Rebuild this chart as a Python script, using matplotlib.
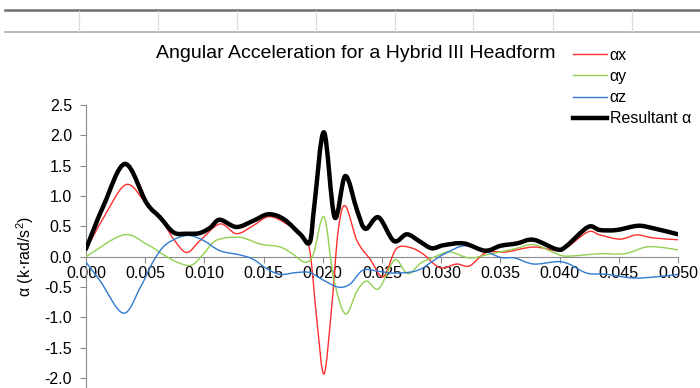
import matplotlib
matplotlib.use('Agg')
import matplotlib.pyplot as plt
from matplotlib.path import Path
from matplotlib.patches import PathPatch
from matplotlib.lines import Line2D
import numpy as np

plt.rcParams['font.family'] = ['Liberation Sans', 'DejaVu Sans']
plt.rcParams['mathtext.fontset'] = 'custom'
plt.rcParams['mathtext.rm'] = 'Liberation Sans'
plt.rcParams['mathtext.it'] = 'Liberation Sans'
plt.rcParams['axes.unicode_minus'] = False

# Werte (Zeit in ms, Winkelbeschleunigung in k·rad/s²)
t_res = [0.0, 1.5, 3.3, 5.1, 6.25, 7.4, 8.5, 9.6, 10.5, 11.3, 12.7, 14.1, 15.4, 16.7,
         18.1, 18.9, 19.3, 20.1, 21.0, 21.9, 22.9, 23.6, 24.7, 26.0, 27.1, 28.2, 29.2,
         30.2, 31.9, 33.7, 35.0, 36.4, 37.8, 39.8, 40.6, 42.4, 43.4, 44.8, 46.6, 47.9, 50.0]
a_res = [0.13, 0.85, 1.53, 0.89, 0.65, 0.40, 0.38, 0.39, 0.48, 0.61, 0.49, 0.59, 0.70, 0.62,
         0.37, 0.24, 0.87, 2.05, 0.65, 1.33, 0.76, 0.46, 0.65, 0.26, 0.37, 0.25, 0.14,
         0.19, 0.22, 0.10, 0.18, 0.22, 0.28, 0.12, 0.18, 0.49, 0.44, 0.44, 0.51, 0.47, 0.37]

t_x = [0.0, 1.5, 3.4, 5.1, 6.25, 7.4, 8.5, 9.6, 11.3, 12.7, 14.1, 15.4, 16.7, 18.2, 18.9,
       19.5, 20.1, 20.75, 21.3, 21.9, 22.9, 24.0, 25.1, 26.2, 27.4, 28.5, 29.9, 31.3,
       32.4, 33.8, 35.5, 37.8, 39.8, 40.6, 42.4, 43.4, 45.1, 46.5, 47.9, 50.0]
a_x = [0.11, 0.65, 1.19, 0.87, 0.65, 0.29, 0.07, 0.26, 0.54, 0.38, 0.51, 0.66, 0.57, 0.35, 0.10,
       -1.05, -1.93, -0.83, 0.43, 0.84, 0.26, -0.04, -0.33, 0.13, 0.15, 0.04, -0.18, -0.12,
       -0.15, 0.07, 0.08, 0.16, 0.10, 0.15, 0.41, 0.36, 0.29, 0.36, 0.31, 0.28]

t_y = [0.0, 3.15, 5.1, 6.5, 7.7, 8.9, 9.9, 11.0, 13.0, 14.7, 16.4, 17.5, 18.5, 19.2, 20.1,
       20.9, 21.9, 22.9, 23.7, 24.7, 25.8, 26.3, 27.2, 28.3, 29.5, 30.7, 32.4, 34.0, 36.2,
       37.8, 39.5, 40.6, 43.4, 45.5, 47.3, 48.8, 50.0]
a_y = [0.00, 0.36, 0.21, 0.04, -0.09, -0.14, 0.04, 0.27, 0.32, 0.21, 0.16, 0.04, -0.09, 0.04, 0.66,
       -0.34, -0.94, -0.56, -0.40, -0.53, -0.12, -0.06, -0.28, -0.10, 0.00, 0.08, -0.02, 0.04, 0.13,
       0.20, 0.07, 0.01, 0.05, 0.05, 0.16, 0.15, 0.11]

t_z = [0.0, 1.2, 3.15, 4.6, 5.7, 6.8, 8.5, 9.9, 11.3, 13.0, 14.1, 15.3, 16.4, 17.8, 18.9,
       20.0, 21.3, 22.3, 23.4, 24.7, 26.0, 27.5, 28.4, 29.3, 30.4, 31.9, 33.4, 35.0, 36.2,
       37.8, 39.8, 40.8, 42.3, 44.0, 46.2, 48.2, 50.0]
a_z = [-0.09, -0.40, -0.93, -0.50, -0.07, 0.21, 0.35, 0.27, 0.10, 0.03, -0.04, -0.20, -0.29, -0.26, -0.26,
       -0.38, -0.50, -0.45, -0.22, -0.24, -0.27, -0.25, -0.19, -0.07, 0.06, 0.18, 0.12, -0.01, -0.02,
       -0.12, -0.08, -0.12, -0.27, -0.29, -0.35, -0.33, -0.29]

x_ticks = [0.000, 0.005, 0.010, 0.015, 0.020, 0.025, 0.030, 0.035, 0.040, 0.045, 0.050]
y_ticks = [-2.0, -1.5, -1.0, -0.5, 0.0, 0.5, 1.0, 1.5, 2.0, 2.5]


def smooth_path(xs, ys):
    # geglaettete Linie wie in Excel (Catmull-Rom als Bezier)
    p = np.column_stack([np.asarray(xs) / 1000.0, ys])
    verts = [p[0]]
    codes = [Path.MOVETO]
    n = len(p)
    for i in range(n - 1):
        p0 = p[i - 1] if i > 0 else p[i]
        p1 = p[i]
        p2 = p[i + 1]
        p3 = p[i + 2] if i + 2 < n else p[i + 1]
        c1 = p1 + (p2 - p0) / 6.0
        c2 = p2 - (p3 - p1) / 6.0
        verts += [c1, c2, p2]
        codes += [Path.CURVE4] * 3
    return Path(verts, codes)


fig = plt.figure(figsize=(7, 3.88), dpi=100)
ax = fig.add_axes([86 / 700, 1 - 408.5 / 388, 592 / 700, 303.5 / 388])

series = [
    (t_x, a_x, '#FF2E2E', 1.0, 'αx'),
    (t_y, a_y, '#92D050', 1.0, 'αy'),
    (t_z, a_z, '#2E7BD0', 1.0, 'αz'),
    (t_res, a_res, 'black', 3.2, 'Resultant α'),
]
handles = []
for ts, vals, col, lw, lab in series:
    ax.add_patch(PathPatch(smooth_path(ts, vals), facecolor='none', edgecolor=col,
                           lw=lw, capstyle='round', joinstyle='round', zorder=3))
    handles.append(Line2D([], [], color=col, lw=lw, label=lab))

ax.set_xlim(0, 0.05)
ax.set_ylim(-2.5, 2.5)

for s in ['top', 'right']:
    ax.spines[s].set_visible(False)
ax.spines['bottom'].set_position(('data', 0))
ax.spines['bottom'].set_color('#8c8c8c')
ax.spines['left'].set_color('#8c8c8c')
ax.spines['bottom'].set_zorder(1)

ax.set_xticks(x_ticks)
ax.set_xticklabels(['%.3f' % v for v in x_ticks])
ax.set_yticks(y_ticks)
ax.set_yticklabels(['%.1f' % v for v in y_ticks])
ax.tick_params(axis='both', colors='#8c8c8c', labelcolor='black', labelsize=11.5,
               direction='out', length=4)
ax.tick_params(axis='x', pad=3)
ax.tick_params(axis='y', pad=6)

ax.set_ylabel('α (k·rad/s$^{2}$)', fontsize=11.5, labelpad=6)

fig.text(356 / 700, 1 - 54 / 388, 'Angular Acceleration for a Hybrid III Headform',
         ha='center', va='center', fontsize=14)

fig.legend(handles=handles, loc='upper left', bbox_to_anchor=(573 / 700, 1 - 48 / 388),
           frameon=False, fontsize=11.5, handlelength=2.1, handletextpad=0.2,
           labelspacing=0.38, borderpad=0, borderaxespad=0)

# Tabellenraster oben (Excel-Bildschirmfoto)
fig.add_artist(Line2D([5 / 700, 1], [1 - 9.8 / 388] * 2, color='#6e6e6e', lw=1.8))
fig.add_artist(Line2D([5 / 700, 1], [1 - 31.7 / 388] * 2, color='#b4b4b4', lw=1.3))
for gx in [79.3, 158.3, 237.3, 316.3, 395.3, 473.3, 553.3, 631.7]:
    fig.add_artist(Line2D([gx / 700] * 2, [1 - 11 / 388, 1 - 31 / 388], color='#dcdcdc', lw=0.9))

plt.savefig('out.png', dpi=100)
plt.close()
